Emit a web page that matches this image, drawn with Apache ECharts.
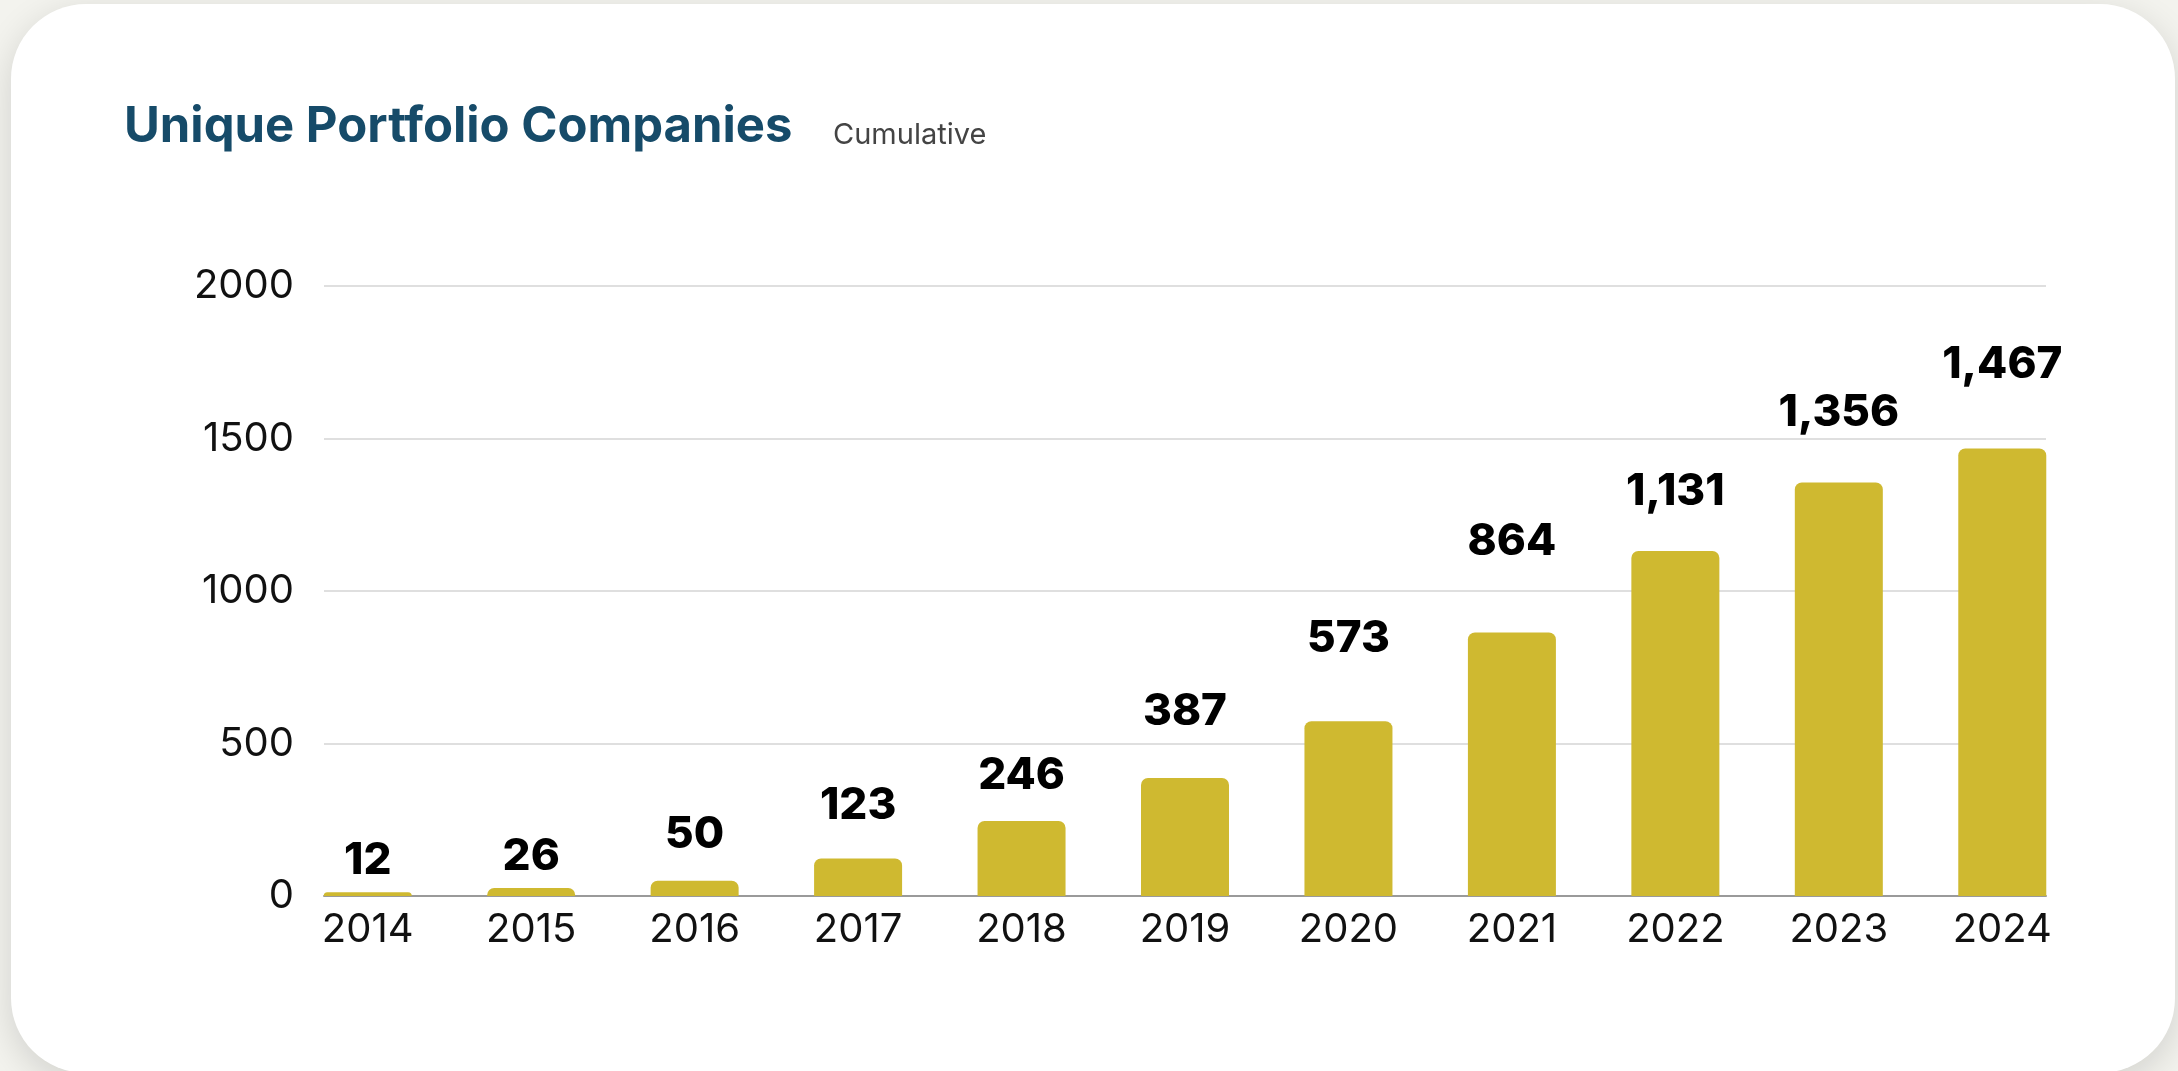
<!DOCTYPE html>
<html>
<head>
<meta charset="utf-8">
<script src="https://cdn.jsdelivr.net/npm/echarts@6/dist/echarts.min.js"></script>
<style>
  html, body { margin: 0; padding: 0; width: 100%; height: 100%; background: #F3F3EE; overflow: hidden; }
  #card { position: absolute; left: 11px; top: 4px; width: 2164px; height: 1069px; background: #ffffff;
          border-radius: 75px; box-shadow: 0 10px 36px rgba(0,0,0,0.14); }
  #chart { position: absolute; left: 0; top: 0; width: 2178px; height: 1071px; }
</style>
</head>
<body>
<div id="card"></div>
<div id="chart"></div>
<script>
// ---- data ----
const years = ['2014', '2015', '2016', '2017', '2018', '2019', '2020', '2021', '2022', '2023', '2024'];
const companies = [12, 26, 50, 123, 246, 387, 573, 864, 1131, 1356, 1467];
// height (in axis units) at which each value label sits
const labelLevels = [115, 128, 198, 293, 392, 601, 841, 1159, 1323, 1582, 1739];
const yTicks = { min: 0, max: 2000, interval: 500 };

const FONT = 'Inter, "Noto Sans", sans-serif';
const chart = echarts.init(document.getElementById('chart'), null, { renderer: 'canvas' });

const fmt = v => v.toLocaleString('en-US');

chart.setOption({
  backgroundColor: 'transparent',
  animation: false,
  title: [
    { text: 'Unique Portfolio Companies', left: 124, top: 103, padding: 0,
      textStyle: { fontFamily: FONT, fontSize: 49, fontWeight: 700, color: '#164B69' } },
    { text: 'Cumulative', left: 833, top: 121, padding: 0,
      textStyle: { fontFamily: FONT, fontSize: 29, fontWeight: 400, color: '#444444' } }
  ],
  grid: [
    { left: 286, right: 94, top: 286, bottom: 175, outerBoundsMode: 'none' },
    { left: 324, right: 132, top: 286, bottom: 175, outerBoundsMode: 'none' }
  ],
  xAxis: [
    { type: 'category', gridIndex: 0, data: years, boundaryGap: true,
      axisLine: { show: false }, axisTick: { show: false },
      axisLabel: { margin: 14, fontFamily: FONT, fontSize: 40, color: '#111111' } },
    { type: 'category', gridIndex: 1, data: years,
      axisLine: { show: true, lineStyle: { color: '#9A9A9A', width: 2 } },
      axisTick: { show: false }, axisLabel: { show: false } }
  ],
  yAxis: [
    { type: 'value', gridIndex: 0, min: yTicks.min, max: yTicks.max, interval: yTicks.interval, show: false },
    { type: 'value', gridIndex: 1, min: yTicks.min, max: yTicks.max, interval: yTicks.interval,
      axisLine: { show: false }, axisTick: { show: false },
      axisLabel: { margin: 30, fontFamily: FONT, fontSize: 40, color: '#111111', formatter: v => String(v) },
      splitLine: { lineStyle: { color: '#D5D5D5', width: 1.5 } } }
  ],
  series: [
    { type: 'bar', xAxisIndex: 0, yAxisIndex: 0, data: companies, barWidth: 88,
      itemStyle: { color: '#CFB930', borderRadius: [7, 7, 0, 0] }, z: 3 },
    { type: 'scatter', xAxisIndex: 0, yAxisIndex: 0, symbolSize: 1, silent: true, z: 4,
      itemStyle: { color: '#000000', opacity: 0 },
      data: labelLevels.map((y, i) => [i, y]),
      label: { show: true, position: 'top', distance: 0, align: 'center', verticalAlign: 'middle',
        formatter: p => fmt(companies[p.dataIndex]),
        fontFamily: FONT, fontSize: 44, fontWeight: 800, color: '#000000', opacity: 1,
        textBorderWidth: 0 } }
  ]
});
</script>
</body>
</html>
